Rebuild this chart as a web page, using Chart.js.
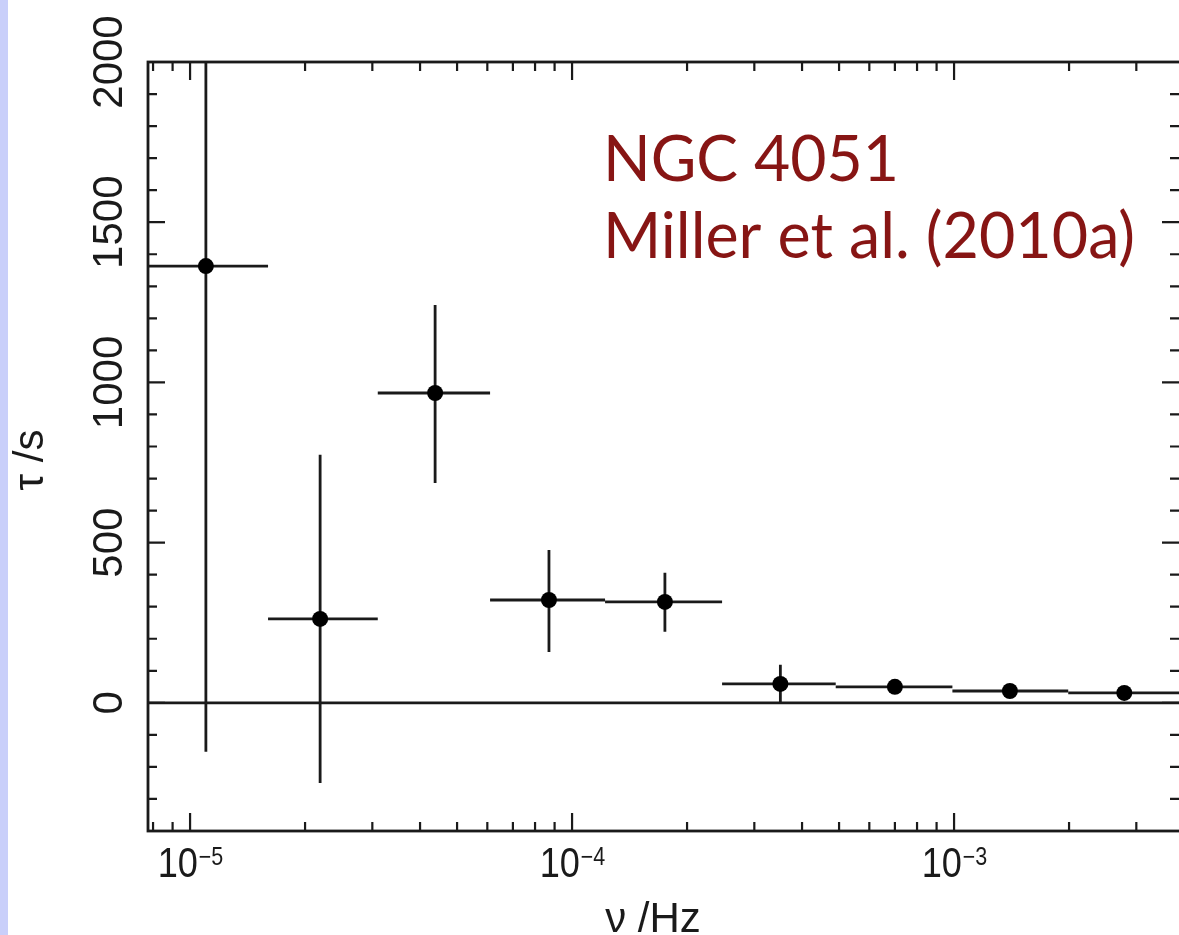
<!DOCTYPE html>
<html>
<head>
<meta charset="utf-8">
<script src="https://cdn.jsdelivr.net/npm/chart.js@4.4.1/dist/chart.umd.min.js"></script>
<style>
  html, body { margin: 0; padding: 0; background: #fff; overflow: hidden; }
  canvas { display: block; }
</style>
</head>
<body>
<canvas id="lagChart" width="1179" height="935"></canvas>
<script>
// frequency bins (Hz) and time lags (s)
const freq = [1.10e-5, 2.19e-5, 4.38e-5, 8.7e-5, 1.75e-4, 3.51e-4, 7.0e-4, 1.40e-3, 2.79e-3];
const freqLo = [7.0e-6, 1.6e-5, 3.1e-5, 6.1e-5, 1.22e-4, 2.47e-4, 4.9e-4, 9.9e-4, 1.99e-3];
const freqHi = [1.6e-5, 3.1e-5, 6.1e-5, 1.22e-4, 2.47e-4, 4.9e-4, 9.9e-4, 1.99e-3, 4.0e-3];
const lag = [1363, 262, 967, 321, 315, 59, 50, 37, 31];
const lagLo = [-153, -250, 686, 159, 222, 0, 42, 30, 25];
const lagHi = [2400, 774, 1242, 477, 406, 119, 58, 44, 37];

const xMajor = [1e-5, 1e-4, 1e-3];
const xMajorExp = ["−5", "−4", "−3"];
const yMajor = [0, 500, 1000, 1500, 2000];

const ink = "#1a1a1a";
const red = "#871514";

const drawRot = (ctx, text, x, y) => {
  ctx.save();
  ctx.translate(x, y);
  ctx.rotate(-Math.PI / 2);
  ctx.fillText(text, 0, 0);
  ctx.restore();
};

const framePlugin = {
  id: "frame",
  beforeDraw(chart) {
    const ctx = chart.ctx;
    ctx.save();
    ctx.fillStyle = "#fff";
    ctx.fillRect(0, 0, chart.width, chart.height);
    ctx.fillStyle = "#c9cffa";
    ctx.fillRect(0, 0, 8, chart.height);
    ctx.restore();
  },
  beforeDatasetsDraw(chart) {
    const { ctx, chartArea: a, scales: { x, y } } = chart;
    ctx.save();
    ctx.beginPath();
    ctx.rect(a.left, a.top, a.right - a.left, a.bottom - a.top);
    ctx.clip();
    ctx.strokeStyle = ink;
    ctx.lineWidth = 2.8;
    // zero line
    ctx.beginPath();
    ctx.moveTo(a.left, y.getPixelForValue(0));
    ctx.lineTo(a.right, y.getPixelForValue(0));
    ctx.stroke();
    // error bars
    for (let i = 0; i < freq.length; i++) {
      const px = x.getPixelForValue(freq[i]);
      const py = y.getPixelForValue(lag[i]);
      ctx.beginPath();
      ctx.moveTo(x.getPixelForValue(freqLo[i]), py);
      ctx.lineTo(x.getPixelForValue(freqHi[i]), py);
      ctx.moveTo(px, y.getPixelForValue(lagLo[i]));
      ctx.lineTo(px, y.getPixelForValue(lagHi[i]));
      ctx.stroke();
    }
    ctx.restore();
  },
  afterDraw(chart) {
    const { ctx, chartArea: a, scales: { x, y } } = chart;
    ctx.save();
    ctx.strokeStyle = ink;
    ctx.lineWidth = 2.8;
    // right edge of the frame falls just outside the picture
    ctx.strokeRect(a.left, a.top, a.right - a.left + 3, a.bottom - a.top);

    // x ticks, log minor ticks on bottom and top
    ctx.lineWidth = 2.2;
    ctx.beginPath();
    for (let e = -6; e <= -2; e++) {
      for (let m = 1; m <= 9; m++) {
        const v = m * Math.pow(10, e);
        if (v <= x.min || v >= x.max) continue;
        const px = x.getPixelForValue(v);
        const len = m === 1 ? 18 : 9;
        ctx.moveTo(px, a.bottom);
        ctx.lineTo(px, a.bottom - len);
        ctx.moveTo(px, a.top);
        ctx.lineTo(px, a.top + len);
      }
    }
    // y ticks every 100, long at 500
    for (let v = -300; v < 2000; v += 100) {
      const py = y.getPixelForValue(v);
      const len = v % 500 === 0 ? 17 : 9;
      ctx.moveTo(a.left, py);
      ctx.lineTo(a.left + len, py);
      ctx.moveTo(a.right, py);
      ctx.lineTo(a.right - len, py);
    }
    ctx.stroke();

    // x tick labels with superscript exponents
    ctx.fillStyle = ink;
    ctx.textBaseline = "alphabetic";
    xMajor.forEach((v, i) => {
      const px = x.getPixelForValue(v);
      ctx.save();
      ctx.translate(px, 877);
      ctx.scale(0.86, 1);
      ctx.font = "42px 'Liberation Sans', Arial, sans-serif";
      const w1 = ctx.measureText("10").width;
      ctx.font = "25px 'Liberation Sans', Arial, sans-serif";
      const w2 = ctx.measureText(xMajorExp[i]).width;
      const start = -(w1 + w2) / 2;
      ctx.textAlign = "left";
      ctx.font = "42px 'Liberation Sans', Arial, sans-serif";
      ctx.fillText("10", start, 0);
      ctx.font = "25px 'Liberation Sans', Arial, sans-serif";
      ctx.fillText(xMajorExp[i], start + w1 + 1, -12);
      ctx.restore();
    });

    // y tick labels, rotated
    ctx.font = "42px 'Liberation Sans', Arial, sans-serif";
    ctx.textAlign = "center";
    yMajor.forEach((v) => drawRot(ctx, String(v), 122, y.getPixelForValue(v)));

    // axis titles
    ctx.fillText("ν /Hz", 653, 932);
    drawRot(ctx, "τ /s", 43, 460);

    // annotation
    ctx.fillStyle = red;
    ctx.textAlign = "left";
    const note = [["NGC 4051", 603, 181, 296], ["Miller et al. (2010a)", 603, 258, 532]];
    ctx.font = "64px Lato, 'Open Sans', sans-serif";
    note.forEach(([t, tx, ty, tw]) => {
      const w = ctx.measureText(t).width;
      ctx.save();
      ctx.translate(tx, ty);
      ctx.scale(tw / w, 1);
      ctx.fillText(t, 0, 0);
      ctx.restore();
    });
    ctx.restore();
  },
};

const ctx = document.getElementById("lagChart").getContext("2d");

const lagChart = new Chart(ctx, {
  type: "scatter",
  data: {
    datasets: [
      {
        label: "lag",
        data: freq.map((f, i) => ({ x: f, y: lag[i] })),
        pointRadius: 8,
        pointHoverRadius: 8,
        backgroundColor: "#000",
        borderWidth: 0,
      },
    ],
  },
  options: {
    responsive: false,
    animation: false,
    devicePixelRatio: 1,
    layout: { autoPadding: false, padding: { top: 62, right: 0, left: 0, bottom: 0 } },
    plugins: {
      legend: { display: false },
      tooltip: { enabled: false },
    },
    scales: {
      x: {
        type: "logarithmic",
        min: 7.76e-6,
        max: 3.88e-3,
        grid: { display: false },
        border: { display: false },
        ticks: { display: false },
        afterFit: (s) => { s.height = 104; },
      },
      y: {
        type: "linear",
        min: -400,
        max: 2000,
        grid: { display: false },
        border: { display: false },
        ticks: { display: false },
        afterFit: (s) => { s.width = 148; },
      },
    },
  },
  plugins: [framePlugin],
});
</script>
</body>
</html>
